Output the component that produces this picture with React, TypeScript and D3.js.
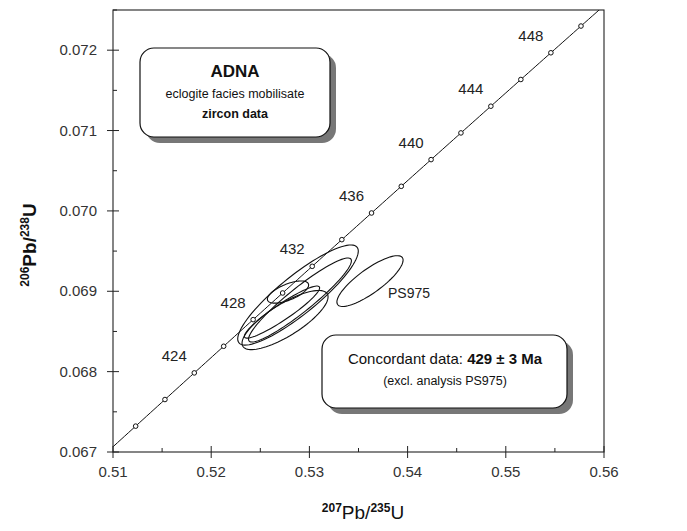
import React from "react";
import * as d3 from "d3";

const W = 687;
const H = 531;

// axis ticks
const xTicks = [0.51, 0.52, 0.53, 0.54, 0.55, 0.56];
const xMinor = [0.515, 0.525, 0.535, 0.545, 0.555];
const yTicks = [0.067, 0.068, 0.069, 0.07, 0.071, 0.072];
const yMinor = [0.0675, 0.0685, 0.0695, 0.0705, 0.0715, 0.0725];

// concordia markers (Ma)
const markerAges = [420, 422, 424, 426, 428, 430, 432, 434, 436, 438, 440, 442, 444, 446, 448, 450];
const labelAges = [424, 428, 432, 436, 440, 444, 448];

// error ellipses: centre, half-extent in x and y, correlation
const ellName = ["a", "b", "c", "d", "e", "PS975"];
const ellX = [0.52884, 0.52904, 0.52782, 0.52752, 0.52721, 0.53617];
const ellY = [0.068953, 0.068891, 0.06899, 0.068642, 0.068741, 0.069127];
const ellSx = [0.00614, 0.00524, 0.0021, 0.00438, 0.00383, 0.00337];
const ellSy = [0.000623, 0.000523, 0.000138, 0.000368, 0.000324, 0.000316];
const ellRho = [0.877, 0.932, 0.638, 0.782, 0.93, 0.824];

const L238 = 1.55125e-10;
const L235 = 9.8485e-10;
const c206 = (t: number) => Math.exp(L238 * t * 1e6) - 1;
const c207 = (t: number) => Math.exp(L235 * t * 1e6) - 1;

const FONT = "'Liberation Sans', Arial, sans-serif";

export default function App() {
  const x = d3.scaleLinear().domain([0.51, 0.56]).range([113, 604]);
  const y = d3.scaleLinear().domain([0.067, 0.0725]).range([452, 10]);

  const ages = d3.range(415, 455, 0.25);
  const line = d3
    .line<number>()
    .x((t) => x(c207(t)))
    .y((t) => y(c206(t)));

  const ellipsePath = (i: number) => {
    const r = ellRho[i];
    const pts = d3.range(0, 361, 4).map((deg) => {
      const a = (deg * Math.PI) / 180;
      return [
        x(ellX[i] + ellSx[i] * Math.cos(a)),
        y(ellY[i] + ellSy[i] * (r * Math.cos(a) + Math.sqrt(1 - r * r) * Math.sin(a))),
      ] as [number, number];
    });
    return d3.line().curve(d3.curveLinearClosed)(pts) || "";
  };

  const axisColor = "#222";

  return (
    <svg
      width={W}
      height={H}
      style={{ position: "absolute", left: 0, top: 0, background: "#fff" }}
      fontFamily={FONT}
    >
      <defs>
        <clipPath id="plot">
          <rect x={113} y={10} width={491} height={442} />
        </clipPath>
      </defs>
      <rect width={W} height={H} fill="#fff" />

      {/* ellipses */}
      <g fill="none" stroke="#111" strokeWidth={1.1}>
        {ellName.map((n, i) => (
          <path key={n} d={ellipsePath(i)} />
        ))}
      </g>

      {/* concordia */}
      <g clipPath="url(#plot)">
        <path d={line(ages) || ""} fill="none" stroke="#111" strokeWidth={1} />
        {markerAges.map((t) => (
          <circle key={t} cx={x(c207(t))} cy={y(c206(t))} r={2.3} fill="#fff" stroke="#111" strokeWidth={1} />
        ))}
      </g>
      <g fontSize={15} fill="#222" textAnchor="middle">
        {labelAges.map((t) => (
          <text key={t} x={x(c207(t)) - 20} y={y(c206(t)) - 12}>
            {t}
          </text>
        ))}
      </g>

      {/* frame */}
      <rect x={113} y={10} width={491} height={442} fill="none" stroke={axisColor} strokeWidth={1.1} />

      {/* ticks */}
      <g stroke={axisColor} strokeWidth={1}>
        {xTicks.map((v) => (
          <line key={v} x1={x(v)} x2={x(v)} y1={446} y2={458} />
        ))}
        {xMinor.map((v) => (
          <line key={v} x1={x(v)} x2={x(v)} y1={448} y2={452} />
        ))}
        {yTicks.map((v) => (
          <line key={v} x1={107} x2={119} y1={y(v)} y2={y(v)} />
        ))}
        {yMinor.map((v) => (
          <line key={v} x1={113} x2={117} y1={y(v)} y2={y(v)} />
        ))}
      </g>
      <g fontSize={15} fill="#333" textAnchor="middle">
        {xTicks.map((v) => (
          <text key={v} x={x(v)} y={477}>
            {d3.format(".2f")(v)}
          </text>
        ))}
      </g>
      <g fontSize={15} fill="#333" textAnchor="end">
        {yTicks.map((v) => (
          <text key={v} x={97} y={y(v) + 5}>
            {d3.format(".3f")(v)}
          </text>
        ))}
      </g>

      {/* axis titles */}
      <text x={363} y={519} textAnchor="middle" fontSize={19} fill="#111">
        <tspan fontSize={12} fontWeight="bold" dy={-7}>207</tspan>
        <tspan dy={7}>Pb/</tspan>
        <tspan fontSize={12} fontWeight="bold" dy={-7}>235</tspan>
        <tspan dy={7}>U</tspan>
      </text>
      <text
        transform="translate(36,245) rotate(-90)"
        textAnchor="middle"
        fontSize={19}
        fontWeight="bold"
        fill="#111"
      >
        <tspan fontSize={12} dy={-7}>206</tspan>
        <tspan dy={7}>Pb/</tspan>
        <tspan fontSize={12} dy={-7}>238</tspan>
        <tspan dy={7}>U</tspan>
      </text>

      {/* ellipse label */}
      <text x={388} y={298} fontSize={14} fill="#222">PS975</text>

      {/* title box */}
      <rect x={146} y={54} width={190} height={89} rx={14} fill="#777" />
      <rect x={140} y={48} width={190} height={89} rx={14} fill="#fff" stroke="#111" strokeWidth={1.2} />
      <text x={235} y={77} textAnchor="middle" fontSize={17} fontWeight="bold" fill="#111">ADNA</text>
      <text x={235} y={98} textAnchor="middle" fontSize={12.5} fill="#111">eclogite facies mobilisate</text>
      <text x={235} y={118} textAnchor="middle" fontSize={12.5} fontWeight="bold" fill="#111">zircon data</text>

      {/* result box */}
      <rect x={328} y={341} width={245} height={73} rx={14} fill="#777" />
      <rect x={322} y={335} width={245} height={73} rx={14} fill="#fff" stroke="#111" strokeWidth={1.2} />
      <text x={445} y={364} textAnchor="middle" fontSize={15} fill="#111">
        <tspan>Concordant data: </tspan>
        <tspan fontWeight="bold">429 ± 3 Ma</tspan>
      </text>
      <text x={445} y={385} textAnchor="middle" fontSize={12.5} fill="#111">(excl. analysis PS975)</text>
    </svg>
  );
}
